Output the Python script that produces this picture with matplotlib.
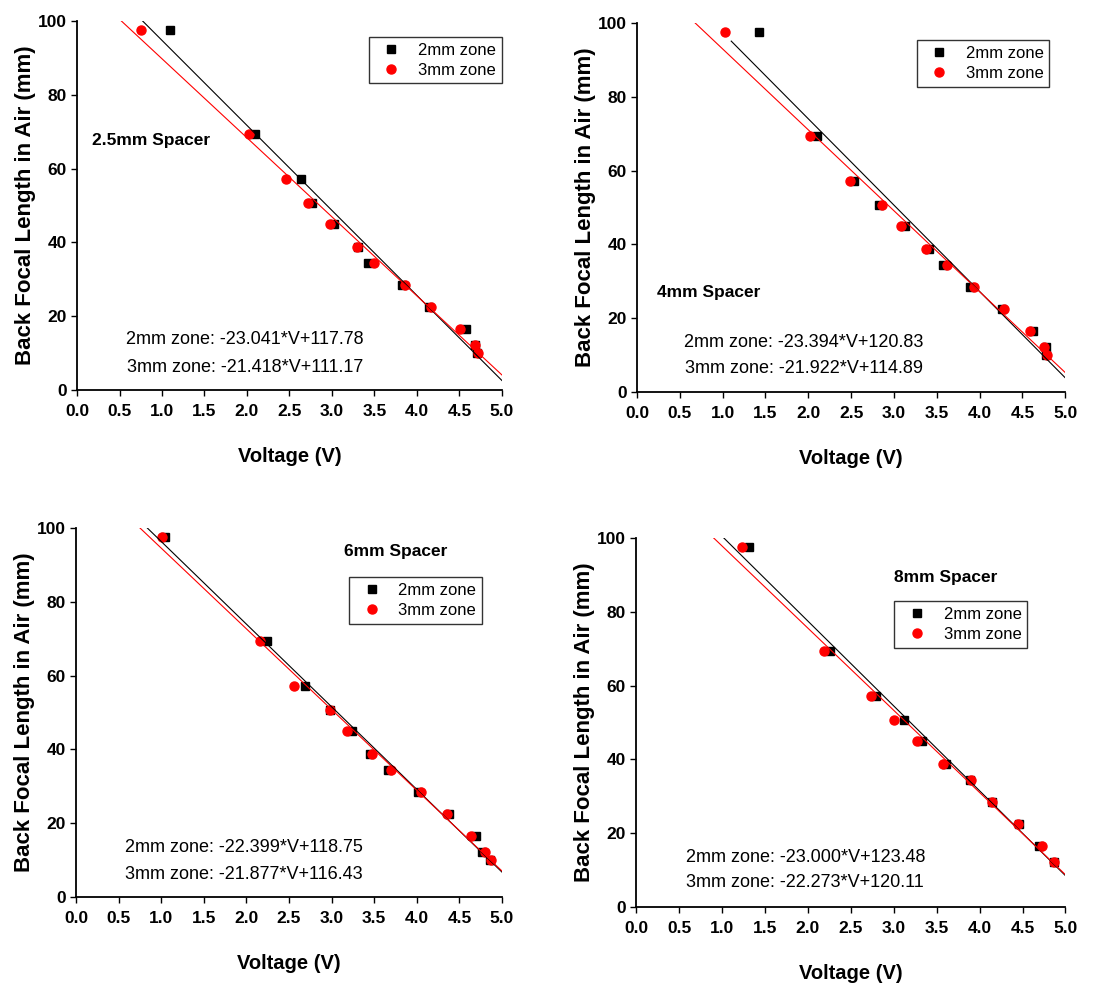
import numpy as np
import matplotlib
matplotlib.use("Agg")
import matplotlib.pyplot as plt

plt.rcParams["font.family"] = ["Liberation Sans", "DejaVu Sans"]

# back focal length values (mm), shared by every panel
bfl = [97.6, 69.3, 57.1, 50.7, 44.9, 38.8, 34.5, 28.4, 22.5, 16.6, 12.3, 10.1]

spacers = ["2.5mm Spacer", "4mm Spacer", "6mm Spacer", "8mm Spacer"]

v_2mm = [
    [1.10, 2.09, 2.64, 2.76, 3.03, 3.31, 3.43, 3.82, 4.14, 4.58, 4.68, 4.71],
    [1.43, 2.10, 2.53, 2.83, 3.13, 3.41, 3.57, 3.89, 4.26, 4.62, 4.77, 4.78],
    [1.05, 2.24, 2.69, 2.98, 3.24, 3.45, 3.66, 4.01, 4.38, 4.69, 4.76, 4.86],
    [1.31, 2.26, 2.79, 3.12, 3.33, 3.61, 3.89, 4.15, 4.46, 4.69, 4.87],
]
v_3mm = [
    [0.75, 2.02, 2.46, 2.72, 2.98, 3.29, 3.49, 3.86, 4.17, 4.51, 4.68, 4.72],
    [1.03, 2.02, 2.49, 2.86, 3.08, 3.38, 3.62, 3.94, 4.28, 4.59, 4.75, 4.79],
    [1.01, 2.16, 2.56, 2.98, 3.18, 3.47, 3.70, 4.05, 4.36, 4.64, 4.80, 4.87],
    [1.23, 2.19, 2.74, 3.00, 3.27, 3.57, 3.90, 4.14, 4.45, 4.73, 4.87],
]

# linear fits: slope, intercept
fit_2mm = [(-23.041, 117.78), (-23.394, 120.83), (-22.399, 118.75), (-23.000, 123.48)]
fit_3mm = [(-21.418, 111.17), (-21.922, 114.89), (-21.877, 116.43), (-22.273, 120.11)]
fit_start_2mm = [0.0, 1.1, 0.0, 0.0]

# layout (figure fractions) and text placement (axes fractions)
axes_pos = [
    [0.0689, 0.6037, 0.380, 0.375],
    [0.5698, 0.6016, 0.383, 0.375],
    [0.0680, 0.0884, 0.381, 0.375],
    [0.5690, 0.0783, 0.384, 0.375],
]
label_pos = [(0.035, 0.675), (0.047, 0.271), (0.629, 0.935), (0.601, 0.892)]
legend_pos = [(1.0, 0.957), (0.963, 0.954), (0.953, 0.867), (0.911, 0.829)]
eq_pos = [(0.395, 0.136, 0.062), (0.390, 0.133, 0.065),
          (0.394, 0.133, 0.062), (0.394, 0.133, 0.065)]

fig = plt.figure(figsize=(11.18, 9.84), dpi=100)

for i in range(4):
    ax = fig.add_axes(axes_pos[i])
    n2 = len(v_2mm[i])
    n3 = len(v_3mm[i])
    ax.plot(v_2mm[i], bfl[:n2], "s", color="black", ms=5.5, label="2mm zone", zorder=3)
    ax.plot(v_3mm[i], bfl[:n3], "o", color="red", ms=6.5, label="3mm zone", zorder=3)

    xs = np.linspace(fit_start_2mm[i], 5.0, 200)
    m, b = fit_2mm[i]
    ax.plot(xs, m * xs + b, color="black", lw=0.8, zorder=4)
    xs = np.linspace(0.0, 5.0, 200)
    m, b = fit_3mm[i]
    ax.plot(xs, m * xs + b, color="red", lw=0.8, zorder=4)

    ax.set_xlim(0, 5)
    ax.set_ylim(0, 100)
    ax.set_xticks(np.arange(0, 5.01, 0.5))
    ax.set_xticklabels(["%.1f" % t for t in np.arange(0, 5.01, 0.5)])
    ax.set_yticks([0, 20, 40, 60, 80, 100])
    for lab in ax.get_xticklabels() + ax.get_yticklabels():
        lab.set_fontweight("bold")
        lab.set_fontsize(12.5)
    ax.tick_params(direction="out", length=4, width=1.0)
    ax.tick_params(axis="x", pad=6)
    ax.spines["top"].set_visible(False)
    ax.spines["right"].set_visible(False)
    ax.spines["left"].set_linewidth(1.3)
    ax.spines["bottom"].set_linewidth(1.3)

    ax.set_xlabel("Voltage (V)", fontsize=14.5, fontweight="bold", labelpad=20)
    ax.set_ylabel("Back Focal Length in Air (mm)", fontsize=16, fontweight="bold", labelpad=1)

    ax.text(label_pos[i][0], label_pos[i][1], spacers[i], transform=ax.transAxes,
            fontsize=12.5, fontweight="bold", va="center", ha="left")

    ex, ey1, ey2 = eq_pos[i]
    ax.text(ex, ey1, "2mm zone: %.3f*V+%.2f" % fit_2mm[i], transform=ax.transAxes,
            fontsize=13, va="center", ha="center")
    ax.text(ex, ey2, "3mm zone: %.3f*V+%.2f" % fit_3mm[i], transform=ax.transAxes,
            fontsize=13, va="center", ha="center")

    leg = ax.legend(loc="upper right", bbox_to_anchor=legend_pos[i], fontsize=12,
                    frameon=True, fancybox=False, edgecolor="black",
                    borderpad=0.35, borderaxespad=0, handletextpad=0.6,
                    labelspacing=0.3, handlelength=2.0)
    leg.get_frame().set_linewidth(1.0)

fig.savefig("out.png", dpi=100)
